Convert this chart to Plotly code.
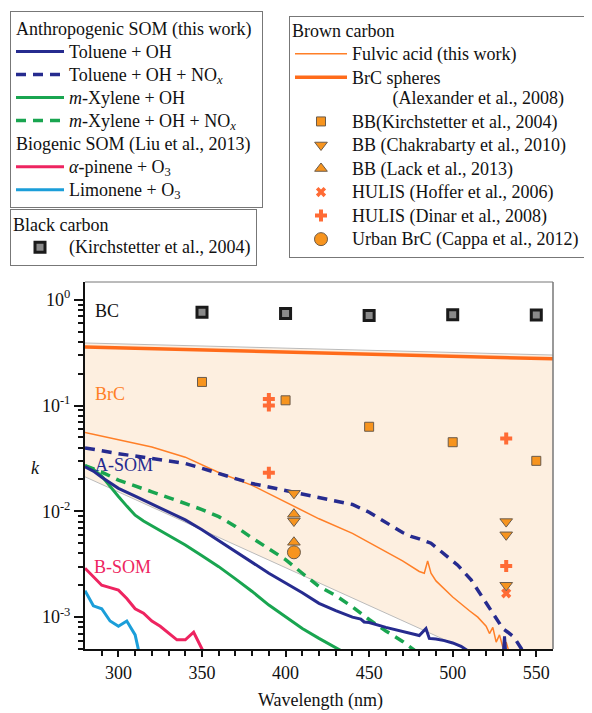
import plotly.graph_objects as go
import numpy as np

# ---------------- data ----------------
tol_oh_wl = [280, 285, 290, 295, 300, 310, 320, 330, 340, 350, 360, 370, 380, 390, 400, 410, 420, 430, 440,
             445, 447, 450, 460, 470, 480, 484, 486, 490, 495, 500, 505, 510, 530, 531, 532]
tol_oh_k = [0.0264, 0.024, 0.021, 0.0185, 0.0165, 0.0139, 0.0117, 0.0099, 0.0083, 0.0067, 0.0053, 0.0042, 0.0033,
            0.0026, 0.0021, 0.0017, 0.00135, 0.00115, 0.00100, 0.00096, 0.00090, 0.00089, 0.00080, 0.00073,
            0.00067, 0.00078, 0.00063, 0.00062, 0.00060, 0.00057, 0.00053, 0.00047, 0.00040, 0.00066, 0.00040]

tol_nox_wl = [280, 290, 300, 310, 320, 330, 340, 350, 360, 370, 380, 390, 400, 410, 420, 430, 440, 450, 460, 470,
              475, 480, 487, 495, 503, 511, 517, 522, 527, 530, 533, 536, 538, 540, 543]
tol_nox_k = [0.0398, 0.037, 0.035, 0.0333, 0.0315, 0.030, 0.0283, 0.0255, 0.0226, 0.0204, 0.0183, 0.017, 0.0158,
             0.0146, 0.0137, 0.0127, 0.0116, 0.0098, 0.0078, 0.0063, 0.0058, 0.0055, 0.0050, 0.0039, 0.0031,
             0.00225, 0.00162, 0.00122, 0.00094, 0.00078, 0.00072, 0.00066, 0.0006, 0.00053, 0.00045]

xyl_oh_wl = [280, 285, 290, 295, 300, 305, 310, 315, 320, 330, 340, 350, 360, 370, 380, 390, 400, 410, 420, 430, 440]
xyl_oh_k = [0.027, 0.025, 0.0215, 0.017, 0.0138, 0.0112, 0.0092, 0.0081, 0.0073, 0.0060, 0.0048, 0.0038, 0.0030,
            0.0023, 0.00175, 0.0013, 0.00100, 0.00078, 0.00063, 0.00051, 0.00042]

xyl_nox_wl = [280, 290, 300, 310, 320, 330, 340, 350, 360, 370, 380, 390, 400, 410, 420, 430, 440, 450, 460, 470, 480]
xyl_nox_k = [0.027, 0.0235, 0.0197, 0.0172, 0.0153, 0.0135, 0.0119, 0.0104, 0.0089, 0.0072, 0.0056, 0.0044,
             0.0035, 0.0026, 0.00195, 0.0016, 0.00125, 0.00095, 0.00074, 0.00059, 0.00045]

apin_wl = [280, 285, 290, 295, 300, 305, 310, 315, 320, 325, 330, 335, 340, 345, 350, 355]
apin_k = [0.0029, 0.0024, 0.0020, 0.0019, 0.0018, 0.0015, 0.0012, 0.00109, 0.00092, 0.00082, 0.00071, 0.00061,
          0.00061, 0.00072, 0.0005, 0.00035]

limo_wl = [280, 285, 290, 295, 300, 305, 310, 315]
limo_k = [0.00178, 0.00128, 0.0012, 0.00092, 0.00082, 0.00092, 0.00068, 0.0003]

fulvic_wl = [280, 300, 320, 340, 360, 380, 400, 420, 440, 450, 460, 470, 480, 483, 485, 487, 490, 500, 510, 515,
             520, 522, 524, 526, 528, 530, 532, 534, 536]
fulvic_k = [0.0555, 0.0475, 0.0405, 0.0325, 0.0233, 0.0176, 0.0122, 0.0085, 0.0062, 0.0051, 0.0042, 0.0034,
            0.0027, 0.0026, 0.0034, 0.0026, 0.0022, 0.00155, 0.00115, 0.00100, 0.00082, 0.00070, 0.00080,
            0.00058, 0.00068, 0.00052, 0.00058, 0.00045, 0.0004]

brc_sph_wl = [280, 420, 560]
brc_sph_k = [0.357, 0.316, 0.276]

brc_upper_wl = [280, 560]
brc_upper_k = [0.39, 0.30]
brc_lower_wl = [280, 560]
brc_lower_k = [0.0212, 0.00021]

bc_wl = [350, 400, 450, 500, 550]
bc_k = [0.76, 0.74, 0.71, 0.72, 0.715]

bb_kir_wl = [350, 400, 450, 500, 550]
bb_kir_k = [0.167, 0.112, 0.063, 0.045, 0.030]

bb_chak_wl = [405, 405, 532, 532, 532]
bb_chak_k = [0.0148, 0.0081, 0.0080, 0.0060, 0.0020]

bb_lack_wl = [405, 405]
bb_lack_k = [0.0094, 0.0051]

hul_hof_wl = [532]
hul_hof_k = [0.00168]

hul_din_wl = [390, 390, 390, 532, 532]
hul_din_k = [0.115, 0.100, 0.0231, 0.0489, 0.00305]

urb_cap_wl = [405]
urb_cap_k = [0.0041]

x_ticks = [300, 350, 400, 450, 500, 550]
x_minor = [290, 310, 320, 330, 340, 360, 370, 380, 390, 410, 420, 430, 440, 460, 470, 480, 490, 510, 520, 530, 540]
y_ticks = [1e-3, 1e-2, 1e-1, 1]
y_ticktext = ["10<sup>-3</sup>", "10<sup>-2</sup>", "10<sup>-1</sup>", "10<sup>0</sup>"]
y_minor = [m * 10.0 ** e for e in range(-4, 1) for m in range(2, 10)]

# ---------------- styles ----------------
FONT = "Liberation Serif"
NAVY = "#262B8F"
GREEN = "#19A550"
ORANGE = "#FF7F27"
ORANGE_T = "#FF6B1A"
PINK = "#EE2460"
BLUE = "#1B9ED9"
MK_OR = "#F7941E"
MK_LINE = "#6B5B4B"
RED_OR = "#FF6B35"
FILL = "#FDEFE0"
GRAY = "#BBBBBB"

# page is drawn with an 8px body margin; figure is sized to fit the window
W, H = 584, 705
ML, MR, MT, MB = 77, 39, 274, 64
PW, PH = W - ML - MR, H - MT - MB


def big(t):
    return '<span style="font-size:18px">' + t + '</span>'


fig = go.Figure()

# shaded BrC region
fig.add_trace(go.Scatter(x=brc_upper_wl, y=brc_upper_k, mode="lines", line=dict(color=GRAY, width=1),
                         showlegend=False, hoverinfo="skip"))
fig.add_trace(go.Scatter(x=brc_lower_wl, y=brc_lower_k, mode="lines", line=dict(color=GRAY, width=1),
                         fill="tonexty", fillcolor=FILL, showlegend=False, hoverinfo="skip"))

# brown carbon lines
fig.add_trace(go.Scatter(x=brc_sph_wl, y=brc_sph_k, mode="lines", line=dict(color=ORANGE_T, width=3.5),
                         name=big("BrC spheres") + "<br>" + big("\u00a0" * 9 + "(Alexander et al., 2008)"),
                         legend="legend3", legendrank=2))
fig.add_trace(go.Scatter(x=fulvic_wl, y=fulvic_k, mode="lines", line=dict(color=ORANGE, width=1.5),
                         name=big("Fulvic acid (this work)"), legend="legend3", legendrank=1))

# SOM curves
anthro = dict(legendgroup="anthro", legendgrouptitle=dict(text=big("Anthropogenic SOM (this work)")))
bio = dict(legendgroup="bio", legendgrouptitle=dict(text=big("Biogenic SOM (Liu et al., 2013)")))

fig.add_trace(go.Scatter(x=limo_wl, y=limo_k, mode="lines", line=dict(color=BLUE, width=3),
                         name=big("Limonene + O<sub>3</sub>"), legendrank=6, **bio))
fig.add_trace(go.Scatter(x=apin_wl, y=apin_k, mode="lines", line=dict(color=PINK, width=3),
                         name=big("<i>α</i>-pinene + O<sub>3</sub>"), legendrank=5, **bio))
fig.add_trace(go.Scatter(x=xyl_oh_wl, y=xyl_oh_k, mode="lines", line=dict(color=GREEN, width=3),
                         name=big("<i>m</i>-Xylene + OH"), legendrank=3, **anthro))
fig.add_trace(go.Scatter(x=xyl_nox_wl, y=xyl_nox_k, mode="lines", line=dict(color=GREEN, width=3.5, dash="10px,7px"),
                         name=big("<i>m</i>-Xylene + OH + NO<sub><i>x</i></sub>"), legendrank=4, **anthro))
fig.add_trace(go.Scatter(x=tol_oh_wl, y=tol_oh_k, mode="lines", line=dict(color=NAVY, width=3),
                         name=big("Toluene + OH"), legendrank=1, **anthro))
fig.add_trace(go.Scatter(x=tol_nox_wl, y=tol_nox_k, mode="lines", line=dict(color=NAVY, width=3.5, dash="10px,7px"),
                         name=big("Toluene + OH + NO<sub><i>x</i></sub>"), legendrank=2, **anthro))

# markers
fig.add_trace(go.Scatter(x=bc_wl, y=bc_k, mode="markers",
                         marker=dict(symbol="square", size=10, color="#8A8A8A", line=dict(color="#1A1A1A", width=3)),
                         name=big("(Kirchstetter et al., 2004)"), legend="legend2"))
fig.add_trace(go.Scatter(x=bb_kir_wl, y=bb_kir_k, mode="markers",
                         marker=dict(symbol="square", size=9, color=MK_OR, line=dict(color=MK_LINE, width=1)),
                         name=big("BB(Kirchstetter et al., 2004)"), legend="legend3", legendrank=3))
fig.add_trace(go.Scatter(x=hul_hof_wl, y=hul_hof_k, mode="markers",
                         marker=dict(symbol="x", size=9, color=RED_OR, line=dict(width=0)),
                         name=big("HULIS (Hoffer et al., 2006)"), legend="legend3", legendrank=6))
fig.add_trace(go.Scatter(x=hul_din_wl, y=hul_din_k, mode="markers",
                         marker=dict(symbol="cross", size=10, color=RED_OR, line=dict(width=0)),
                         name=big("HULIS (Dinar et al., 2008)"), legend="legend3", legendrank=7))
fig.add_trace(go.Scatter(x=urb_cap_wl, y=urb_cap_k, mode="markers",
                         marker=dict(symbol="circle", size=13, color=MK_OR, line=dict(color=MK_LINE, width=1)),
                         name=big("Urban BrC (Cappa et al., 2012)"), legend="legend3", legendrank=8))
fig.add_trace(go.Scatter(x=bb_lack_wl, y=bb_lack_k, mode="markers",
                         marker=dict(symbol="triangle-up", size=11, color=MK_OR, line=dict(color=MK_LINE, width=1)),
                         name=big("BB (Lack et al., 2013)"), legend="legend3", legendrank=5))
fig.add_trace(go.Scatter(x=bb_chak_wl, y=bb_chak_k, mode="markers",
                         marker=dict(symbol="triangle-down", size=11, color=MK_OR, line=dict(color=MK_LINE, width=1)),
                         name=big("BB (Chakrabarty et al., 2010)"), legend="legend3", legendrank=4))

legend_font = dict(family=FONT, size=15.8, color="#111111")
legend1_font = dict(family=FONT, size=15.4, color="#111111")
leg_common = dict(xref="container", yref="container", xanchor="left", yanchor="top", bgcolor="white",
                  bordercolor="#777777", borderwidth=1, tracegroupgap=0, valign="top")

fig.update_layout(
    width=W, height=H,
    margin=dict(l=ML, r=MR, t=MT, b=MB, autoexpand=False),
    paper_bgcolor="white", plot_bgcolor="white",
    font=dict(family=FONT, size=18, color="#111111"),
    showlegend=True,
    legend=dict(x=2 / W, y=1 - 3 / H, traceorder="grouped", itemwidth=48, font=legend1_font,
                grouptitlefont=legend1_font, **leg_common),
    legend2=dict(x=2 / W, y=1 - 201 / H, itemwidth=48, font=legend_font,
                 title=dict(text=big("Black carbon"), font=legend_font), **leg_common),
    legend3=dict(x=281 / W, y=1 - 7.5 / H, itemwidth=52, font=legend_font,
                 title=dict(text=big("Brown carbon"), font=legend_font), **leg_common),
    xaxis=dict(range=[280, 560], tickmode="array", tickvals=x_ticks, ticks="outside", ticklen=6, tickwidth=1.5,
               tickcolor="#111", showline=True, linecolor="#111", linewidth=2, showgrid=False, zeroline=False,
               tickfont=dict(family=FONT, size=18), automargin=False,
               minor=dict(tickmode="array", tickvals=x_minor, ticks="outside", ticklen=5, tickwidth=1.5,
                          tickcolor="#111", showgrid=False)),
    yaxis=dict(type="log", range=[np.log10(5e-4), np.log10(1.47)], tickmode="array", tickvals=y_ticks,
               ticktext=y_ticktext, ticks="outside", ticklen=9, tickwidth=1.5, tickcolor="#111",
               showline=True, linecolor="#111", linewidth=2, showgrid=False, zeroline=False,
               tickfont=dict(family=FONT, size=18), automargin=False,
               minor=dict(tickmode="array", tickvals=y_minor, ticks="outside", ticklen=5, tickwidth=1.5,
                          tickcolor="#111", showgrid=False)),
    shapes=[
        dict(type="line", xref="paper", yref="paper", x0=0, x1=1, y0=1, y1=1, line=dict(color="#777", width=1)),
        dict(type="line", xref="paper", yref="paper", x0=1, x1=1, y0=0, y1=1, line=dict(color="#777", width=1.5)),
    ],
    annotations=[
        dict(text="<i>k</i>", x=(27 - ML) / PW, y=(H - MB - 460) / PH, xref="paper", yref="paper",
             xanchor="center", yanchor="middle", showarrow=False, font=dict(family=FONT, size=18, color="#111")),
        dict(text="Wavelength (nm)", x=(312 - ML) / PW, y=(H - MB - 692) / PH, xref="paper", yref="paper",
             xanchor="center", yanchor="middle", showarrow=False, font=dict(family=FONT, size=18, color="#111")),
        dict(text="BC", x=284.5, y=np.log10(0.776), xref="x", yref="y", xanchor="left", showarrow=False,
             font=dict(family=FONT, size=18, color="#111")),
        dict(text="BrC", x=284.5, y=np.log10(0.128), xref="x", yref="y", xanchor="left", showarrow=False,
             font=dict(family=FONT, size=18, color=ORANGE)),
        dict(text="A-SOM", x=284.8, y=np.log10(0.0277), xref="x", yref="y", xanchor="left", showarrow=False,
             font=dict(family=FONT, size=18, color=NAVY)),
        dict(text="B-SOM", x=284.0, y=np.log10(0.0030), xref="x", yref="y", xanchor="left", showarrow=False,
             font=dict(family=FONT, size=18, color=PINK)),
    ],
)

fig.write_html("out.html")
